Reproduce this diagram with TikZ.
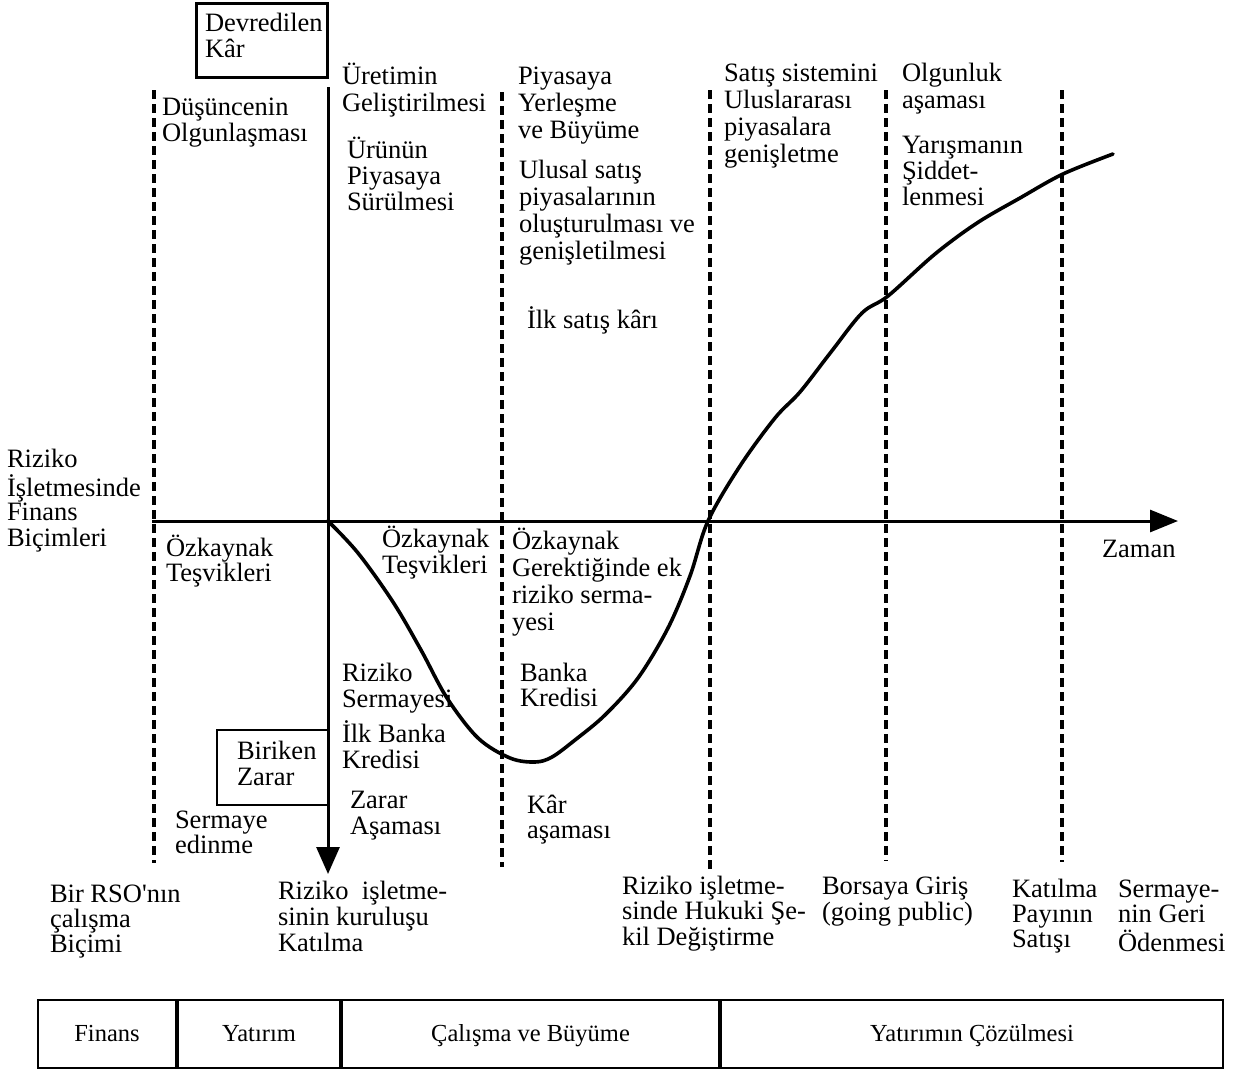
\documentclass[tikz,border=0pt]{standalone}
\usepackage{fontspec}
\setmainfont{Liberation Serif}
\usetikzlibrary{arrows.meta}

% multi-line label: first row's baseline is the node baseline
\newcommand\lines[2][25]{{\fontsize{26.5}{#1}\selectfont\begin{tabular}[t]{@{}l@{}}#2\end{tabular}}}

\tikzset{
  lbl/.style={anchor=base west, inner sep=0pt, outer sep=0pt},
  axisline/.style={line width=3pt},
  phase/.style={line width=3.4pt, dash pattern=on 9pt off 5pt},
  curveline/.style={line width=3.6pt, line join=round, line cap=round},
  cell/.style={draw, line width=2pt, minimum height=68pt, inner sep=0pt, anchor=west,
    text height=18pt, text depth=3pt, font=\fontsize{24.5}{26}\selectfont},
}

\begin{document}
\begin{tikzpicture}[x=1pt, y=-1pt]
\useasboundingbox (0,0) rectangle (1256,1071);

% phase boundaries
\coordinate (p1t) at (154,90);  \coordinate (p1b) at (154,863);
\coordinate (p2t) at (502,92);  \coordinate (p2b) at (502,867);
\coordinate (p3t) at (710,90);  \coordinate (p3b) at (710,870);
\coordinate (p4t) at (886,90);  \coordinate (p4b) at (886,861);
\coordinate (p5t) at (1062,90); \coordinate (p5b) at (1062,862);
\foreach \i in {1,...,5} \draw[phase] (p\i t) -- (p\i b);

% axes
\coordinate (origin) at (328,521);
\coordinate (xend) at (1178,521);
\coordinate (xstart) at (152,521);
\coordinate (ytop) at (328,87);
\coordinate (yend) at (328,874);
\draw[axisline, -{Triangle[length=28pt, width=22pt]}] (xstart) -- (xend);
\draw[axisline, -{Triangle[length=27pt, width=23pt]}] (ytop) -- (yend);

% boxes
\draw[line width=3pt] (196,3) rectangle (327,77);
\draw[line width=2.2pt] (328,730) -| (217,805) -- (328,805);

% development curve
\draw[curveline] plot[smooth, tension=0.55] coordinates {
  (328,521) (358,553) (393,602) (421,650) (447,698) (478,738)
  (510,758) (535,762) (552,757) (575,740) (605,715) (638,678) (668,628)
  (690,576) (708,521) (740,466) (775,418) (800,392) (831,352) (862,313)
  (888,296) (935,254) (977,223) (1020,198) (1063,174) (1113,154)};

% upper labels
\node[lbl] (dev)  at (205,31)  {\lines[26]{Devredilen\\Kâr}};
\node[lbl] (dus)  at (162,115) {\lines[26]{Düşüncenin\\Olgunlaşması}};
\node[lbl] (ure)  at (342,84)  {\lines[27]{Üretimin\\Geliştirilmesi}};
\node[lbl] (uru)  at (347,158) {\lines[26]{Ürünün\\Piyasaya\\Sürülmesi}};
\node[lbl] (piy)  at (518,84)  {\lines[27]{Piyasaya\\Yerleşme\\ve Büyüme}};
\node[lbl] (ulu)  at (519,178) {\lines[27]{Ulusal satış\\piyasalarının\\oluşturulması ve\\genişletilmesi}};
\node[lbl] (ilk)  at (527,328) {\lines{İlk satış kârı}};
\node[lbl] (sat)  at (724,81)  {\lines[27]{Satış sistemini\\Uluslararası\\piyasalara\\genişletme}};
\node[lbl] (olg)  at (902,81)  {\lines[27]{Olgunluk\\aşaması}};
\node[lbl] (yar)  at (902,153) {\lines[26]{Yarışmanın\\Şiddet-\\lenmesi}};

% finance forms
\node[lbl] (fin)  at (7,467)   {\lines[24]{Riziko\\İşletmesinde\\Finans\\Biçimleri}};
\node[lbl] (ozk1) at (166,556) {\lines[25]{Özkaynak\\Teşvikleri}};
\node[lbl] (ozk2) at (382,547) {\lines[26.5]{Özkaynak\\Teşvikleri}};
\node[lbl] (ozk3) at (512,549) {\lines[27]{Özkaynak\\Gerektiğinde ek\\riziko serma-\\yesi}};
\node[lbl] (rsm)  at (342,681) {\lines[26]{Riziko\\Sermayesi}};
\node[lbl] (ibk)  at (342,742) {\lines[26]{İlk Banka\\Kredisi}};
\node[lbl] (bnk)  at (520,681) {\lines[25]{Banka\\Kredisi}};
\node[lbl] (bir)  at (237,759) {\lines[26]{Biriken\\Zarar}};
\node[lbl] (zar)  at (350,808) {\lines[26]{Zarar\\Aşaması}};
\node[lbl] (ser)  at (175,828) {\lines[25]{Sermaye\\edinme}};
\node[lbl] (kar)  at (527,813) {\lines[25]{Kâr\\aşaması}};
\node[lbl] (zam)  at (1102,557) {\lines{Zaman}};

% events along the time line
\node[lbl] (rso)  at (50,902)   {\lines[24.5]{Bir RSO\textquotesingle nın\\çalışma\\Biçimi}};
\node[lbl] (kur)  at (278,899)  {\lines[25.5]{Riziko\ \ işletme-\\sinin kuruluşu\\Katılma}};
\node[lbl] (huk)  at (622,894)  {\lines[25]{Riziko işletme-\\sinde Hukuki Şe-\\kil Değiştirme}};
\node[lbl] (bor)  at (822,894)  {\lines[26]{Borsaya Giriş\\(going public)}};
\node[lbl] (ktl)  at (1012,897) {\lines[25]{Katılma\\Payının\\Satışı}};
\node[lbl] (sge)  at (1118,897) {\lines[25]{Sermaye-\\nin Geri\\Ödenmesi}};

% phase table
\node[cell, minimum width=138pt] (c1) at (37,1034) {Finans};
\node[cell, minimum width=162pt] (c2) at (c1.east) {Yatırım};
\node[cell, minimum width=377pt] (c3) at (c2.east) {Çalışma ve Büyüme};
\node[cell, minimum width=502pt] (c4) at (c3.east) {Yatırımın Çözülmesi};
\end{tikzpicture}
\end{document}
